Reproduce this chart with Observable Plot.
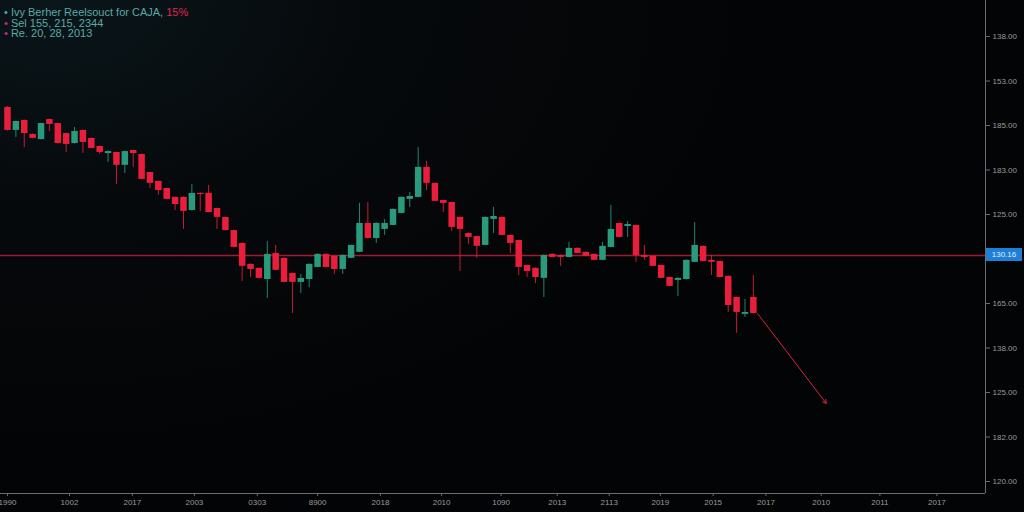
<!DOCTYPE html>
<html><head><meta charset="utf-8">
<script src="https://cdn.jsdelivr.net/npm/d3@7"></script>
<script src="https://cdn.jsdelivr.net/npm/@observablehq/plot@0.6"></script>
<style>
html,body{margin:0;padding:0;background:#050709;width:1024px;height:512px;overflow:hidden;}
#wrap{position:relative;width:1024px;height:512px;background:radial-gradient(ellipse 70% 90% at 5% 0%, #0a161a 0%, #06090c 45%, #030405 100%);}
#chart{position:absolute;left:0;top:0;}
#title{position:absolute;left:4px;top:7px;font-family:"Liberation Sans",Arial,sans-serif;font-size:11px;line-height:10.5px;color:#5aa9a6;z-index:2;white-space:nowrap;}
#title .b1{color:#3fb3a8}
#title .b2{color:#d8286a}
#title .hl{color:#e0245a}
#pricebox{position:absolute;width:36px;height:13px;background:#1f7fd6;color:#dfefff;font-family:"Liberation Sans",Arial,sans-serif;font-size:8px;line-height:13px;text-align:center;z-index:2;}
</style>
</head><body>
<div id="wrap">
  <div id="title">
    <div><span class="b1">•</span> Ivy Berher Reelsouct for CAJA, <span class="hl">15%</span></div>
    <div><span class="b2">•</span> Sel 155, 215, 2344</div>
    <div><span class="b2">•</span> Re. 20, 28, 2013</div>
  </div>
  <div id="chart"></div>
  <div id="pricebox"></div>
</div>
<script>
// ---- data (prices) ----
const opens  = [136.81,135.78,136.23,135.60,135.37,136.27,136.09,135.64,135.19,135.78,135.42,135.06,134.74,134.79,134.21,134.88,134.70,133.89,133.49,133.17,132.77,132.77,132.18,132.95,132.95,132.27,131.87,131.28,130.70,129.76,129.58,129.08,130.25,130.03,129.35,128.95,129.08,129.62,130.21,130.12,129.53,130.03,130.30,131.60,130.92,131.33,131.51,132.05,132.68,132.77,134.12,133.40,132.63,132.54,131.87,131.15,131.01,130.61,131.78,131.87,131.06,130.83,129.71,129.58,129.13,130.21,130.16,130.07,130.48,130.30,130.21,129.94,130.52,131.60,131.46,131.51,130.16,130.12,129.71,129.17,129.04,129.08,129.85,130.57,129.94,129.89,129.22,128.27,127.51,128.27];
const highs  = [136.85,136.20,136.25,135.62,136.10,136.30,136.10,135.66,135.91,135.80,135.44,135.08,134.85,134.81,134.85,134.90,134.72,133.90,133.50,133.19,132.79,132.79,133.35,132.97,133.31,132.29,131.89,131.30,130.72,129.78,129.60,130.79,130.61,130.05,129.37,129.31,129.78,130.23,130.23,130.14,130.18,130.63,132.50,132.54,131.62,131.78,132.25,132.79,132.99,135.01,134.39,133.42,132.65,132.56,131.89,131.17,131.03,131.89,132.32,131.89,131.08,130.85,129.73,129.60,130.18,130.23,130.18,130.75,130.50,130.32,130.23,130.75,132.41,131.62,131.69,131.53,130.61,130.14,129.73,129.19,129.15,129.96,131.64,130.59,130.16,129.91,129.24,128.29,128.18,129.26];
const lows   = [135.75,135.46,135.01,135.40,135.35,135.73,135.17,134.79,135.17,134.74,134.95,134.70,134.34,133.35,133.85,134.12,133.56,133.17,132.86,132.66,132.18,131.33,132.16,132.14,132.07,131.33,131.26,130.50,128.99,129.17,129.11,128.23,129.47,128.93,127.55,128.45,128.72,129.60,129.60,129.31,129.31,130.01,130.28,130.90,130.70,131.06,131.49,132.03,132.32,132.75,133.08,132.57,132.09,131.24,129.44,130.66,130.03,130.59,131.15,131.04,130.25,129.26,129.17,128.90,128.27,130.05,129.67,130.05,130.23,130.10,129.92,129.92,130.50,130.95,130.97,129.85,129.94,129.65,129.11,128.75,128.32,129.06,129.83,129.87,129.26,129.15,127.60,126.66,127.37,127.53];
const closes = [135.78,136.18,135.64,135.42,136.09,136.05,135.19,135.15,135.73,135.24,134.97,134.79,134.83,134.21,134.83,134.74,133.58,133.40,133.08,132.68,132.45,132.14,132.95,132.90,132.09,131.87,131.28,130.52,129.67,129.53,129.13,130.21,129.49,128.95,128.95,129.13,129.76,130.21,129.62,129.53,130.16,130.61,131.60,130.92,131.60,131.60,132.23,132.77,132.81,134.12,133.40,132.59,132.50,131.42,131.33,130.97,130.57,131.87,131.91,131.06,130.70,129.62,129.44,129.17,130.16,130.07,130.07,130.48,130.25,130.12,129.94,130.57,131.33,130.97,131.55,130.16,130.07,129.67,129.13,128.77,129.13,129.94,130.61,129.89,129.85,129.17,127.91,127.60,127.60,127.55];

const currentPrice = 130.16;
const currentLabel = "130.16";
const projectionFrom = {i: 89.5, price: 127.55};
const projectionTo   = {i: 97.7, price: 123.51};

const xTickValues = [0,7.4,14.9,22.3,29.8,37,44.5,51.8,58.9,65.6,71.8,77.9,84.2,90.5,97.1,104.1,110.9];
const xTickLabels = ["1990","1002","2017","2003","0303","8900","2018","2010","1090","2013","2113","2019","2015","2017","2010","2011","2017"];
const yTickValues = [140,138,136,134,132,128,126,124,122,120];
const yTickLabels = ["138.00","153.00","185.00","183.00","125.00","165.00","138.00","125.00","182.00","120.00"];

const xDomain = [-0.835, 116.7];
const yDomain = [119.46, 141.62];

const UP = "#2a9a7c", DOWN = "#e81e3c";

const candles = opens.map((o, i) => ({i, open: o, high: highs[i], low: lows[i], close: closes[i]}));
const col = d => d.close >= d.open ? UP : DOWN;

const plot = Plot.plot({
  width: 1024, height: 512,
  marginLeft: 0, marginRight: 39, marginTop: 0, marginBottom: 19,
  style: {background: "transparent", fontFamily: "Liberation Sans, Arial, sans-serif", fontSize: "8px", color: "#9a9a9a"},
  x: {type: "linear", domain: xDomain, axis: null, label: null},
  y: {type: "linear", domain: yDomain, axis: null, label: null},
  marks: [
    Plot.ruleY([currentPrice], {stroke: "#c8203e", strokeWidth: 1.4, strokeOpacity: 0.8}),
    Plot.ruleX(candles, {x: "i", y1: "low", y2: "high", stroke: col, strokeWidth: 1, strokeOpacity: 0.85}),
    Plot.ruleX(candles, {x: "i", y1: "open", y2: "close", stroke: col, strokeWidth: 6.5}),
    Plot.arrow([{}], {x1: () => projectionFrom.i, y1: () => projectionFrom.price, x2: () => projectionTo.i, y2: () => projectionTo.price,
      stroke: "#d8243e", strokeWidth: 1, headLength: 6}),
    Plot.ruleY([yDomain[0]], {stroke: "#6c6c6c", strokeWidth: 1}),
    Plot.ruleX([xDomain[1]], {stroke: "#6c6c6c", strokeWidth: 1}),
    Plot.axisX({ticks: xTickValues, tickFormat: d => xTickLabels[xTickValues.indexOf(d)], label: null, tickSize: 3, tickPadding: 3, stroke: "#6c6c6c", fill: "#9a9a9a", fontSize: 8}),
    Plot.axisY({anchor: "right", ticks: yTickValues, tickFormat: d => yTickLabels[yTickValues.indexOf(d)], label: null, tickSize: 4, tickPadding: 3, stroke: "#6c6c6c", fill: "#9a9a9a", fontSize: 8})
  ]
});
document.getElementById("chart").appendChild(plot);

const ys = plot.scale("y"), xs = plot.scale("x");
const box = document.getElementById("pricebox");
box.textContent = currentLabel;
box.style.left = (xs.apply(xDomain[1]) + 1) + "px";
box.style.top = (ys.apply(currentPrice) - 6.5) + "px";
</script>
</body></html>
